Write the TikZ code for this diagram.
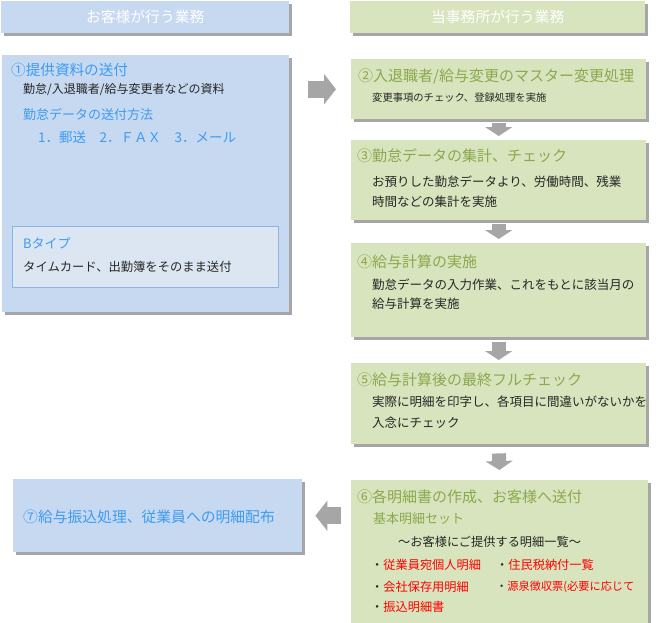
\documentclass[tikz,border=0pt]{standalone}
\usepackage{fontspec}
\setmainfont{Noto Sans CJK JP}
\usetikzlibrary{positioning, shadows, arrows.meta, calc}
\definecolor{custFill}{HTML}{C6D9F1}
\definecolor{officeFill}{HTML}{D7E4BD}
\definecolor{custText}{HTML}{3D9BF2}
\definecolor{officeText}{HTML}{8CA84E}
\definecolor{arrowGray}{HTML}{A6A6A6}
\definecolor{bTypeFill}{HTML}{DCE6F2}
\definecolor{bTypeLine}{HTML}{8EB4E3}
\definecolor{listRed}{HTML}{FF0000}
\newcommand{\fsz}[1]{\fontsize{#1pt}{#1pt}\selectfont}
\tikzset{
    paneBox/.style={inner sep=0pt, anchor=north west,
        drop shadow={shadow xshift=2.5pt, shadow yshift=-2.5pt, fill=black!35, opacity=1}},
    custBox/.style={paneBox, fill=custFill},
    officeBox/.style={paneBox, fill=officeFill},
    headText/.style={text=white, font=\fsz{14.8}},
    lineText/.style={anchor=west, inner sep=0pt},
    custTitle/.style={lineText, text=custText, font=\fsz{14.6}},
    officeTitle/.style={lineText, text=officeText, font=\fsz{15}},
    bodyText/.style={lineText, text=black!85, font=\fsz{12.5}},
    listItem/.style={lineText, text=black!85, font=\fsz{12.2}},
    blockArrow/.style={draw=arrowGray, line width=14pt,
        -{Triangle[width=27pt, length=9pt]}, shorten <=4pt, shorten >=4pt},
}
\newcommand{\redEntry}[1]{・\textcolor{listRed}{#1}}

\begin{document}
\begin{tikzpicture}[x=1pt, y=-1pt]
    \useasboundingbox (0,0) rectangle (660,622);

    % headers
    \node[custBox, minimum width=288pt, minimum height=32pt, headText] (h1) at (1,1) {お客様が行う業務};
    \node[officeBox, minimum width=295pt, minimum height=32pt, headText] (h2) at (350,1) {当事務所が行う業務};

    % customer side
    \node[custBox, minimum width=287pt, minimum height=257pt] (b1) at (2,55) {};
    \node[custTitle] (t1) at (11,70) {①提供資料の送付};
    \node[bodyText, font=\fsz{12}] (s1) at (23,90) {勤怠/入退職者/給与変更者などの資料};
    \node[custTitle, font=\fsz{13}] (s1b) at (23,115) {勤怠データの送付方法};
    \node[custTitle, font=\fsz{13.5}] (s1c) at (38,137) {1．郵送　2．ＦＡＸ　3．メール};
    \node[draw=bTypeLine, line width=1pt, fill=bTypeFill, anchor=north west,
        minimum width=266pt, minimum height=61pt, inner sep=0pt] (bt) at (12,226) {};
    \node[custTitle, font=\fsz{13}] (btt) at (23,243) {Bタイプ};
    \node[bodyText, font=\fsz{12.3}] (bts) at (23,267) {タイムカード、出勤簿をそのまま送付};

    \node[custBox, minimum width=289pt, minimum height=73pt] (b7) at (13,479) {};
    \node[custTitle, font=\fsz{14.8}] (t7) at (23,517) {⑦給与振込処理、従業員への明細配布};

    % office side
    \node[officeBox, minimum width=295pt, minimum height=60pt] (b2) at (351,59) {};
    \node[officeTitle] (t2) at (358,76) {②入退職者/給与変更のマスター変更処理};
    \node[bodyText, font=\fsz{10.3}] (s2) at (372,98) {変更事項のチェック、登録処理を実施};

    \node[officeBox, minimum width=295pt, minimum height=80pt] (b3) at (351,140) {};
    \node[officeTitle] (t3) at (357,156) {③勤怠データの集計、チェック};
    \node[bodyText] (s3) at (372,182) {お預りした勤怠データより、労働時間、残業};
    \node[bodyText] (s3b) at (372,202) {時間などの集計を実施};

    \node[officeBox, minimum width=295pt, minimum height=94pt] (b4) at (351,243) {};
    \node[officeTitle] (t4) at (357,262) {④給与計算の実施};
    \node[bodyText] (s4) at (372,285) {勤怠データの入力作業、これをもとに該当月の};
    \node[bodyText] (s4b) at (372,304) {給与計算を実施};

    \node[officeBox, minimum width=295pt, minimum height=81pt] (b5) at (351,363) {};
    \node[officeTitle] (t5) at (357,380) {⑤給与計算後の最終フルチェック};
    \node[bodyText] (s5) at (372,402) {実際に明細を印字し、各項目に間違いがないかを};
    \node[bodyText] (s5b) at (372,423) {入念にチェック};

    \node[officeBox, minimum width=297pt, minimum height=150pt] (b6) at (351,480) {};
    \node[officeTitle] (t6) at (357,497) {⑥各明細書の作成、お客様へ送付};
    \node[officeTitle, font=\fsz{13}] (s6) at (373,519) {基本明細セット};
    \node[listItem] (s6b) at (398,542) {～お客様にご提供する明細一覧～};
    \node[listItem] (l1) at (371,565) {\redEntry{従業員宛個人明細}};
    \node[listItem] (l2) at (496,565) {\redEntry{住民税納付一覧}};
    \node[listItem] (l3) at (371,587) {\redEntry{会社保存用明細}};
    \node[listItem, font=\fsz{11.2}] (l4) at (496,587) {\redEntry{源泉徴収票(必要に応じて}};
    \node[listItem] (l5) at (371,607) {\redEntry{振込明細書}};

    % arrows
    \draw[blockArrow, line width=17pt, -{Triangle[width=30pt, length=12pt]}, shorten <=19pt, shorten >=15pt]
        (b1.east |- b2.west) -- (b2.west);
    \draw[blockArrow] (b2.south) -- (b3.north);
    \draw[blockArrow] (b3.south) -- (b4.north);
    \draw[blockArrow, shorten <=5pt, shorten >=3pt] (b4.south) -- (b5.north);
    \draw[blockArrow, shorten <=9pt, shorten >=10pt] (b5.south) -- (b6.north);
    \draw[blockArrow, line width=17pt, -{Triangle[width=30pt, length=12pt]}, shorten <=10pt, shorten >=13pt]
        (b6.west |- b7.east) -- (b7.east);
\end{tikzpicture}
\end{document}
